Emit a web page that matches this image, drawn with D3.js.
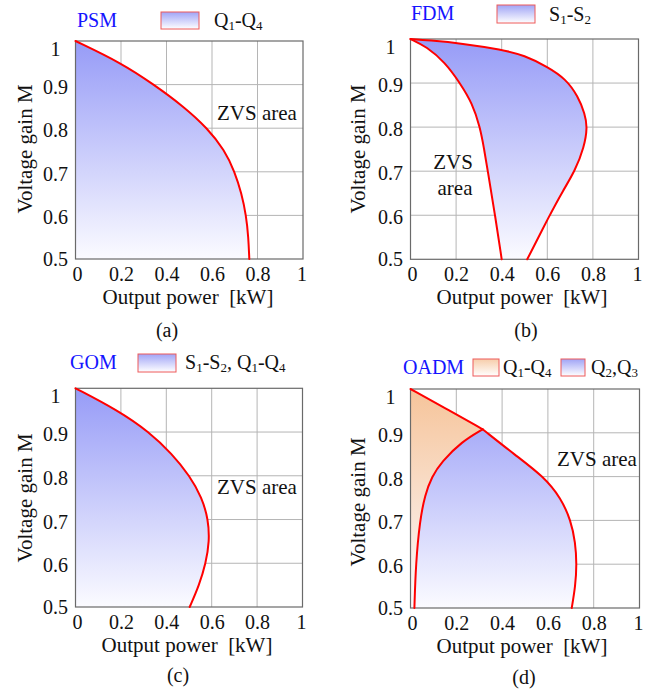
<!DOCTYPE html>
<html><head><meta charset="utf-8">
<script src="https://cdn.jsdelivr.net/npm/d3@7"></script>
<style>
body{margin:0;background:#fff}
svg{display:block;font-family:"Liberation Serif","Times New Roman",serif}
text{font-family:"Liberation Serif","Times New Roman",serif;fill:#111}
</style>
</head><body>
<svg id="chart" width="663" height="696"></svg>
<script>
// ---------- data ----------
const xTicks = [0, 0.2, 0.4, 0.6, 0.8, 1];
const xTickLabels = ["0", "0.2", "0.4", "0.6", "0.8", "1"];
const yTicks = [0.5, 0.6, 0.7, 0.8, 0.9, 1];
const yTickLabels = ["0.5", "0.6", "0.7", "0.8", "0.9", "1"];

// (a) PSM, Q1-Q4 ZVS boundary  (P = output power kW, M = voltage gain)
const psmM = [1, 0.95, 0.9, 0.85, 0.8, 0.75, 0.7, 0.65, 0.6, 0.55, 0.5];
const psmP = [0, 0.2, 0.345, 0.475, 0.58, 0.655, 0.70, 0.73, 0.75, 0.76, 0.764];

// (b) FDM, S1-S2 outer and inner boundary
const fdmOuterP = [0, 0.08, 0.225, 0.40, 0.50, 0.60, 0.68, 0.735, 0.765, 0.776, 0.762, 0.721, 0.67, 0.61, 0.512];
const fdmOuterM = [1, 0.997, 0.99, 0.976, 0.963, 0.937, 0.91, 0.87, 0.83, 0.8, 0.755, 0.7, 0.657, 0.6, 0.5];
const fdmInnerP = [0, 0.071, 0.151, 0.217, 0.271, 0.305, 0.323, 0.339, 0.371, 0.40];
const fdmInnerM = [1, 0.9825, 0.947, 0.9, 0.854, 0.8, 0.75, 0.7, 0.6, 0.5];

// (c) GOM, S1-S2, Q1-Q4 boundary
const gomM = [1, 0.95, 0.9, 0.85, 0.8, 0.75, 0.7, 0.65, 0.6, 0.55, 0.5];
const gomP = [0, 0.185, 0.325, 0.425, 0.503, 0.557, 0.585, 0.59, 0.574, 0.545, 0.503];

// (d) OADM, outer boundary (Q1-Q4 above junction, Q2,Q3 below) and inner boundary
const oadmOuterM = [1, 0.957, 0.908, 0.85, 0.8, 0.75, 0.7, 0.65, 0.6, 0.55, 0.5];
const oadmOuterP = [0, 0.15, 0.315, 0.455, 0.582, 0.658, 0.70, 0.72, 0.726, 0.72, 0.704];
const oadmJunction = 2;
const oadmInnerP = [0.315, 0.224, 0.136, 0.093, 0.063, 0.041, 0.023, 0.017];
const oadmInnerM = [0.908, 0.88, 0.834, 0.8, 0.758, 0.7, 0.6, 0.5];

// ---------- drawing ----------
const FONT = '"Liberation Serif","Times New Roman",serif';
const svg = d3.select("#chart");
const defs = svg.append("defs");
const BLUE_TOP = "#969bf7", ORANGE_TOP = "#f6c49a";

function zip(P, M) { return P.map((p, i) => [p, M[i]]); }

function legGrad(id, top) {
  const g = defs.append("linearGradient").attr("id", id)
    .attr("x1", 0).attr("y1", 0).attr("x2", 0).attr("y2", 1);
  g.append("stop").attr("offset", 0).attr("stop-color", top);
  g.append("stop").attr("offset", 1).attr("stop-color", "#ffffff");
}
legGrad("legBlue", "#a0a4f6");
legGrad("legOrange", "#f7cdaa");

function subText(g, x, y, parts, color) {
  const t = g.append("text").attr("x", x).attr("y", y).attr("font-size", 20).style("font-family", FONT);
  if (color) t.style("fill", color);
  let down = false;
  parts.forEach(p => {
    const s = t.append("tspan").text(p.t);
    if (p.sub) { s.attr("font-size", 13).attr("dy", 3); down = true; }
    else if (down) { s.attr("dy", -3); down = false; }
  });
  return t;
}

function txt(g, x, y, s, anchor, size) {
  return g.append("text").attr("x", x).attr("y", y).attr("text-anchor", anchor || "start")
    .attr("font-size", size || 21).style("font-family", FONT).text(s);
}

function panel(cfg) {
  const g = svg.append("g");
  const x = d3.scaleLinear().domain([0, 1]).range([cfg.x0, cfg.x1]);
  const y = d3.scaleLinear().domain([0.5, 1]).range([cfg.y1, cfg.y0]);
  const line = d3.line().x(d => x(d[0])).y(d => y(d[1])).curve(d3.curveBasis);
  const seg = (pts, first) => first ? line(pts) : line(pts).replace(/^M/, "L");

  ["blue", "orange"].forEach(c => {
    const gr = defs.append("linearGradient").attr("id", cfg.id + c)
      .attr("gradientUnits", "userSpaceOnUse")
      .attr("x1", 0).attr("y1", cfg.y0).attr("x2", 0).attr("y2", cfg.y1);
    gr.append("stop").attr("offset", 0).attr("stop-color", c === "blue" ? BLUE_TOP : ORANGE_TOP);
    gr.append("stop").attr("offset", 1).attr("stop-color", "#fbfbff");
  });

  // grid
  g.append("g").selectAll("line").data(xTicks.slice(1, -1)).join("line")
    .attr("x1", d => x(d)).attr("x2", d => x(d)).attr("y1", cfg.y0).attr("y2", cfg.y1)
    .attr("stroke", "#b5b5b5").attr("stroke-width", 1);
  g.append("g").selectAll("line").data(yTicks.slice(1, -1)).join("line")
    .attr("y1", d => y(d)).attr("y2", d => y(d)).attr("x1", cfg.x0).attr("x2", cfg.x1)
    .attr("stroke", "#b5b5b5").attr("stroke-width", 1);

  // regions
  cfg.regions.forEach(r => {
    g.append("path").attr("d", r.d(seg, x, y)).attr("fill", `url(#${cfg.id}${r.color})`).attr("stroke", "none");
  });

  // frame
  g.append("rect").attr("x", cfg.x0).attr("y", cfg.y0)
    .attr("width", cfg.x1 - cfg.x0).attr("height", cfg.y1 - cfg.y0)
    .attr("fill", "none").attr("stroke", "#6a6a6a").attr("stroke-width", 1.2);

  // curves
  cfg.curves.forEach(c => {
    g.append("path").attr("d", line(c)).attr("fill", "none")
      .attr("stroke", "#ff0000").attr("stroke-width", 2).attr("stroke-linejoin", "round")
      .attr("stroke-linecap", "round");
  });

  // x tick labels via axis
  const xa = g.append("g").attr("transform", `translate(0,${cfg.y1})`)
    .call(d3.axisBottom(x).tickValues(xTicks).tickSize(0).tickPadding(0)
      .tickFormat((d, i) => xTickLabels[i]));
  xa.attr("font-family", FONT);
  xa.select(".domain").remove();
  xa.selectAll("text").attr("y", 22).attr("dy", 0).attr("font-size", 20)
    .style("font-family", FONT).style("fill", "#111")
    .attr("x", d => d === 1 ? -1.5 : (d === 0 ? 1.5 : 0));

  // y tick labels via axis
  const ya = g.append("g").attr("transform", `translate(${cfg.x0},0)`)
    .call(d3.axisLeft(y).tickValues(yTicks).tickSize(0).tickPadding(0)
      .tickFormat((d, i) => yTickLabels[i]));
  ya.attr("font-family", FONT);
  ya.select(".domain").remove();
  ya.selectAll("text").attr("text-anchor", "middle").attr("x", -20).attr("font-size", 20)
    .style("font-family", FONT).style("fill", "#111")
    .attr("dy", d => d === 1 ? "0.72em" : (d === 0.5 ? "0.32em" : "0.5em"))
    .attr("y", d => (d === 1 || d === 0.5) ? 0 : -1.5);

  // axis titles
  g.append("text").attr("transform", `translate(${cfg.ylx},${cfg.yly}) rotate(-90)`)
    .attr("text-anchor", "middle").attr("font-size", 21).style("font-family", FONT).text("Voltage gain M");
  txt(g, cfg.xtx, cfg.y1 + 45, "Output power\u00A0\u00A0[kW]", "middle", 21);
  txt(g, cfg.capx, cfg.capy, cfg.cap, "middle", 20);

  cfg.zvs.forEach(z => txt(g, z.x, z.y, z.t, z.anchor, 21));

  // legend
  subText(g, cfg.title.x, cfg.title.y, [{t: cfg.title.t}], "#1414ff");
  cfg.legend.forEach(l => {
    g.append("rect").attr("x", l.bx).attr("y", l.by).attr("width", l.bw).attr("height", l.bh)
      .attr("fill", `url(#${l.grad})`).attr("stroke", "#ee5a5a").attr("stroke-width", 1);
    subText(g, l.tx, l.ty, l.parts);
  });
}

const Q14 = [{t: "Q"}, {t: "1", sub: true}, {t: "-Q"}, {t: "4", sub: true}];

// (a)
panel({
  id: "a", x0: 75.5, x1: 303, y0: 41, y1: 259,
  ylx: 32, yly: 149, xtx: 188, capx: 167, capy: 337, cap: "(a)",
  regions: [{color: "blue", d: (seg, x, y) => seg(zip(psmP, psmM), true) + `L${x(0)},${y(0.5)}Z`}],
  curves: [zip(psmP, psmM)],
  zvs: [{x: 217, y: 120, t: "ZVS area"}],
  title: {x: 77, y: 27, t: "PSM"},
  legend: [{bx: 161, by: 12, bw: 38, bh: 17, grad: "legBlue", tx: 214, ty: 27, parts: Q14}]
});

// (b)
panel({
  id: "b", x0: 410.5, x1: 638.5, y0: 39, y1: 259.3,
  ylx: 365, yly: 149, xtx: 522, capx: 526, capy: 337, cap: "(b)",
  regions: [{color: "blue", d: (seg) =>
    seg(zip(fdmOuterP, fdmOuterM), true) + seg(zip(fdmInnerP, fdmInnerM).reverse(), false) + "Z"}],
  curves: [zip(fdmOuterP, fdmOuterM), zip(fdmInnerP, fdmInnerM)],
  zvs: [{x: 453, y: 169, t: "ZVS", anchor: "middle"}, {x: 455, y: 195, t: "area", anchor: "middle"}],
  title: {x: 411, y: 20, t: "FDM"},
  legend: [{bx: 497, by: 5, bw: 38, bh: 18, grad: "legBlue", tx: 549, ty: 21,
    parts: [{t: "S"}, {t: "1", sub: true}, {t: "-S"}, {t: "2", sub: true}]}]
});

// (c)
panel({
  id: "c", x0: 75.5, x1: 302.5, y0: 388.3, y1: 607,
  ylx: 32, yly: 498, xtx: 187, capx: 178, capy: 682, cap: "(c)",
  regions: [{color: "blue", d: (seg, x, y) => seg(zip(gomP, gomM), true) + `L${x(0)},${y(0.5)}Z`}],
  curves: [zip(gomP, gomM)],
  zvs: [{x: 217, y: 494, t: "ZVS area"}],
  title: {x: 70, y: 369, t: "GOM"},
  legend: [{bx: 138, by: 354, bw: 38, bh: 18, grad: "legBlue", tx: 185, ty: 369,
    parts: [{t: "S"}, {t: "1", sub: true}, {t: "-S"}, {t: "2", sub: true}, {t: ", Q"}, {t: "1", sub: true}, {t: "-Q"}, {t: "4", sub: true}]}]
});

// (d)
const dOuter = zip(oadmOuterP, oadmOuterM);
const dUpper = dOuter.slice(0, oadmJunction + 1);
const dLower = dOuter.slice(oadmJunction);
const dInner = zip(oadmInnerP, oadmInnerM);
panel({
  id: "d", x0: 410.5, x1: 639.5, y0: 389, y1: 608,
  ylx: 365, yly: 502, xtx: 522, capx: 524, capy: 684, cap: "(d)",
  regions: [
    {color: "orange", d: (seg, x, y) =>
      seg(dUpper, true) + seg(dInner, false) + `L${x(0)},${y(0.5)}Z`},
    {color: "blue", d: (seg) =>
      seg(dLower, true) + seg(dInner.slice().reverse(), false) + "Z"}
  ],
  curves: [dUpper, dLower, dInner],
  zvs: [{x: 557, y: 466, t: "ZVS area"}],
  title: {x: 403, y: 374, t: "OADM"},
  legend: [
    {bx: 473, by: 359, bw: 26, bh: 17, grad: "legOrange", tx: 503, ty: 374, parts: Q14},
    {bx: 561, by: 359, bw: 24, bh: 17, grad: "legBlue", tx: 591, ty: 374,
      parts: [{t: "Q"}, {t: "2", sub: true}, {t: ",Q"}, {t: "3", sub: true}]}
  ]
});
</script>
</body></html>
